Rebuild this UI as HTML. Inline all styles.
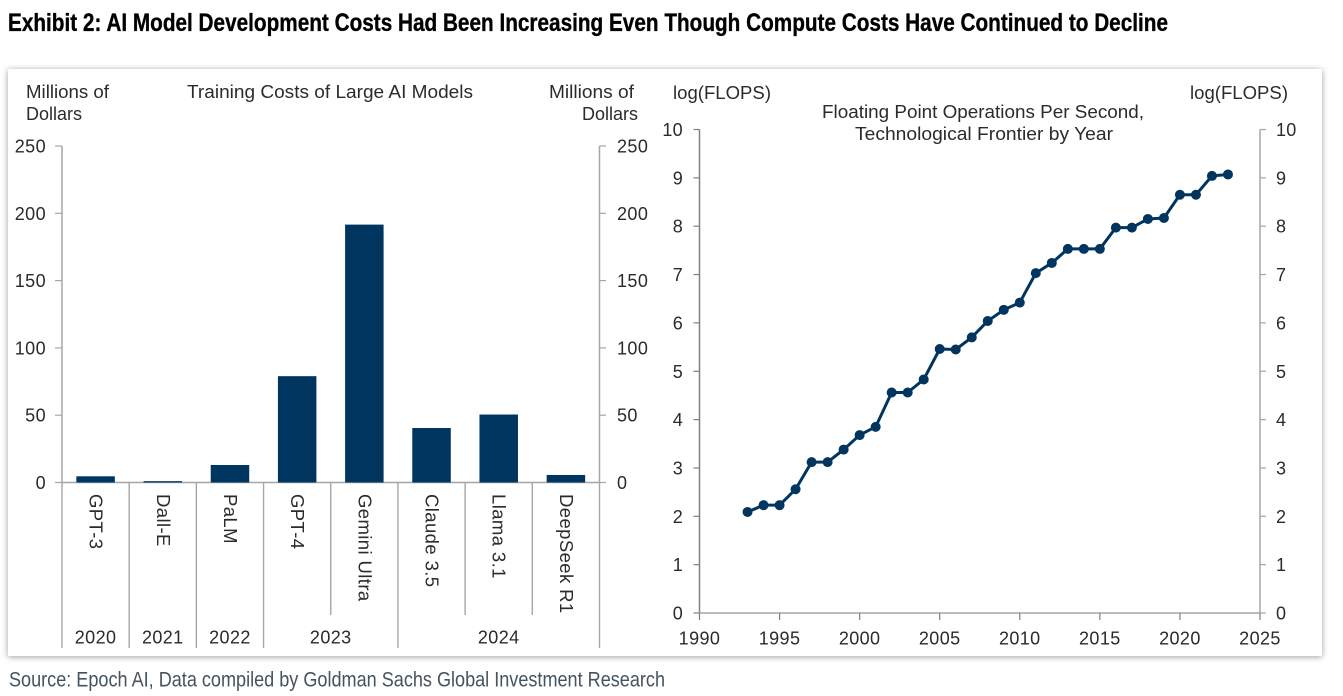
<!DOCTYPE html>
<html lang="en">
<head>
<meta charset="utf-8">
<title>Exhibit 2</title>
<style>
html,body{margin:0;padding:0;background:#fff;}
body{width:1343px;height:696px;overflow:hidden;position:relative;}
#panel{position:absolute;left:8px;top:69px;width:1314px;height:587px;background:#fff;box-shadow:0 1px 6px rgba(0,0,0,.38);}
#chart{position:absolute;left:0;top:0;}
text{font-family:"Liberation Sans",Arial,sans-serif;font-size:18px;fill:#2b2b2b;}
</style>
</head>
<body>
<div id="panel"></div>
<svg id="chart" width="1343" height="696" viewBox="0 0 1343 696" xmlns="http://www.w3.org/2000/svg">
  <text x="8" y="31" textLength="1160" lengthAdjust="spacingAndGlyphs" style="font-family:'Liberation Sans Narrow','Liberation Sans',sans-serif;font-weight:700;font-size:25px;fill:#000;stroke:#000;stroke-width:.35px">Exhibit 2: AI Model Development Costs Had Been Increasing Even Though Compute Costs Have Continued to Decline</text>
  <text x="9" y="686.5" textLength="656" lengthAdjust="spacingAndGlyphs" style="font-family:'Liberation Sans Narrow','Liberation Sans',sans-serif;font-size:21px;fill:#44545f">Source: Epoch AI, Data compiled by Goldman Sachs Global Investment Research</text>

  <text x="26" y="98" textLength="83" lengthAdjust="spacingAndGlyphs">Millions of</text>
  <text x="26" y="120" textLength="56" lengthAdjust="spacingAndGlyphs">Dollars</text>
  <text x="187" y="98" textLength="286" lengthAdjust="spacingAndGlyphs">Training  Costs of Large  AI Models</text>
  <text x="549" y="98" textLength="85" lengthAdjust="spacingAndGlyphs">Millions of</text>
  <text x="582" y="120" textLength="56" lengthAdjust="spacingAndGlyphs">Dollars</text>

  <text x="673" y="99" textLength="98" lengthAdjust="spacingAndGlyphs">log(FLOPS)</text>
  <text x="1190" y="99" textLength="98" lengthAdjust="spacingAndGlyphs">log(FLOPS)</text>
  <text x="822" y="118" textLength="322" lengthAdjust="spacingAndGlyphs">Floating Point Operations  Per Second,</text>
  <text x="855" y="140" textLength="258" lengthAdjust="spacingAndGlyphs">Technological  Frontier by Year</text>

  <g id="bar-chart"></g>
  <g id="line-chart"></g>
</svg>
<script>
const barCategories = ['GPT-3','Dall-E','PaLM','GPT-4','Gemini Ultra','Claude 3.5','Llama 3.1','DeepSeek R1'];
const barValues = [4.6, 1, 13, 79, 191.6, 40.5, 50.5, 5.6];
const barTicks = [0, 50, 100, 150, 200, 250];
const yearGroups = ['2020','2021','2022','2023','2024'];
const yearGroupCounts = [1, 1, 1, 2, 3];

const lineYears = [1993,1994,1995,1996,1997,1998,1999,2000,2001,2002,2003,2004,2005,2006,2007,2008,2009,2010,2011,2012,2013,2014,2015,2016,2017,2018,2019,2020,2021,2022,2023];
const lineValues = [2.09,2.23,2.23,2.56,3.12,3.12,3.38,3.68,3.85,4.56,4.56,4.83,5.46,5.45,5.70,6.04,6.27,6.42,7.03,7.24,7.53,7.53,7.53,7.97,7.97,8.15,8.17,8.65,8.65,9.04,9.07];
const lineYTicks = [0,1,2,3,4,5,6,7,8,9,10];
const lineXTicks = [1990,1995,2000,2005,2010,2015,2020,2025];

const SVGNS = 'http://www.w3.org/2000/svg';
const BAR_COLOR = '#00355f';
const AXIS_GREY = '#a6a6a6';

function make(parent, tag, attrs, text) {
  const el = document.createElementNS(SVGNS, tag);
  for (const k in attrs) el.setAttribute(k, attrs[k]);
  if (text !== undefined) el.textContent = text;
  parent.appendChild(el);
  return el;
}

/* ---------- bar chart ---------- */
const barG = document.getElementById('bar-chart');
const barLeft = 62, barRight = 599.5, barZero = 482.5, barTop = 146;
const barMax = 250;
const barY = v => barZero - (v / barMax) * (barZero - barTop);
const catW = (barRight - barLeft) / barCategories.length;
const catX = i => barLeft + catW * i;

[[barLeft, 55, 'end', 46, 'left'], [barRight, 606, 'start', 617, 'right']].forEach(function (side) {
  const axis = make(barG, 'line', {x1: side[0], x2: side[0], y1: barTop, y2: barZero, stroke: AXIS_GREY, 'stroke-width': 1.5});
  
  
  barTicks.forEach(function (t) {
    const tick = make(barG, 'line', {x1: side[0], x2: side[1], y1: barY(t), y2: barY(t), stroke: AXIS_GREY, 'stroke-width': 1.2});
    
    
    const lab = make(barG, 'text', {x: side[3], y: barY(t) + 6.5, 'text-anchor': side[2], 'letter-spacing': '0.4'}, String(t));
    
    
  });
});

const barAxisX = make(barG, 'line', {x1: barLeft, x2: barRight, y1: barZero, y2: barZero, stroke: AXIS_GREY, 'stroke-width': 1.5});



barCategories.forEach(function (c, i) {
  const w = 38.5;
  const x = catX(i) + (catW - w) / 2;
  const bar = make(barG, 'rect', {x: x, y: barY(barValues[i]), width: w, height: barZero - barY(barValues[i]), fill: BAR_COLOR});
  
  
  const cx = catX(i) + catW / 2;
  const lab = make(barG, 'text', {x: cx - 6, y: 494, transform: 'rotate(90 ' + (cx - 6) + ' 494)', 'letter-spacing': '0.4', style: 'font-size:18.5px'}, c);
  
  
});

let startIdx = 0;
const sepTop = barZero, sepBottom = 648, sepShort = 615;
yearGroups.forEach(function (yr, g) {
  const n = yearGroupCounts[g];
  const x0 = catX(startIdx);
  const x1 = catX(startIdx + n);
  const lab = make(barG, 'text', {x: (x0 + x1) / 2, y: 643.5, 'text-anchor': 'middle', 'letter-spacing': '0.4'}, yr);
  
  
  const sep = make(barG, 'line', {x1: x0, x2: x0, y1: sepTop, y2: sepBottom, stroke: AXIS_GREY, 'stroke-width': 1.4});
  
  
  for (let k = 1; k < n; k++) {
    const s = make(barG, 'line', {x1: catX(startIdx + k), x2: catX(startIdx + k), y1: sepTop, y2: sepShort, stroke: AXIS_GREY, 'stroke-width': 1.4});
    
    
  }
  startIdx += n;
});
const lastSep = make(barG, 'line', {x1: barRight, x2: barRight, y1: sepTop, y2: sepBottom, stroke: AXIS_GREY, 'stroke-width': 1.4});



/* ---------- line chart ---------- */
const lineG = document.getElementById('line-chart');
const lineLeft = 699.5, lineRight = 1260, lineZero = 613, lineTop = 129.5;
const lineX = yr => lineLeft + (yr - lineXTicks[0]) / (lineXTicks[lineXTicks.length - 1] - lineXTicks[0]) * (lineRight - lineLeft);
const lineY = v => lineZero - (v / lineYTicks[lineYTicks.length - 1]) * (lineZero - lineTop);

[[lineLeft, lineLeft - 6, 'end', 683, '#808080', 'left'], [lineRight, lineRight + 6, 'start', 1276, AXIS_GREY, 'right']].forEach(function (side) {
  const axis = make(lineG, 'line', {x1: side[0], x2: side[0], y1: lineTop, y2: lineZero, stroke: side[4], 'stroke-width': 1.5});
  
  
  lineYTicks.forEach(function (t) {
    const tick = make(lineG, 'line', {x1: side[0], x2: side[1], y1: lineY(t), y2: lineY(t), stroke: side[4], 'stroke-width': 1.2});
    
    
    const lab = make(lineG, 'text', {x: side[3], y: lineY(t) + 6.5, 'text-anchor': side[2], 'letter-spacing': '0.3'}, String(t));
    
    
  });
});

const lineAxisX = make(lineG, 'line', {x1: lineLeft, x2: lineRight, y1: lineZero, y2: lineZero, stroke: AXIS_GREY, 'stroke-width': 1.5});


lineXTicks.forEach(function (t) {
  const tick = make(lineG, 'line', {x1: lineX(t), x2: lineX(t), y1: lineZero, y2: lineZero + 7, stroke: '#808080', 'stroke-width': 1.2});
  
  
  const lab = make(lineG, 'text', {x: lineX(t), y: 644.5, 'text-anchor': 'middle', 'letter-spacing': '0.4'}, String(t));
  
  
});

const linePts = lineYears.map((yr, i) => lineX(yr) + ',' + lineY(lineValues[i])).join(' ');
const flopsLine = make(lineG, 'polyline', {points: linePts, fill: 'none', stroke: BAR_COLOR, 'stroke-width': 3, 'stroke-linejoin': 'round'});


lineYears.forEach(function (yr, i) {
  const pt = make(lineG, 'circle', {cx: lineX(yr), cy: lineY(lineValues[i]), r: 5, fill: BAR_COLOR});
  
  
});
</script>
</body>
</html>
